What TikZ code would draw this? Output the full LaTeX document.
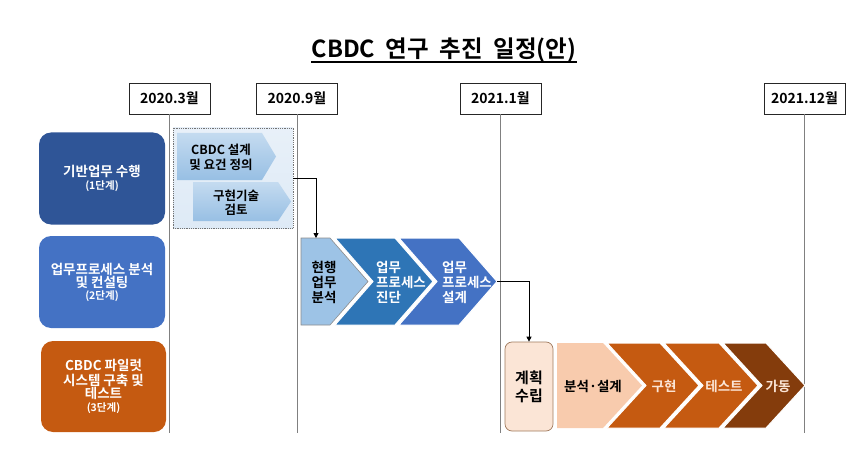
\documentclass[tikz,border=0pt]{standalone}
\usepackage{fontspec}
\setmainfont{Noto Sans CJK KR}[BoldFont={Noto Sans CJK KR Bold}]
\usetikzlibrary{arrows.meta}
\definecolor{bnavy}{HTML}{2F5597}
\definecolor{bmid}{HTML}{4472C4}
\definecolor{bdark}{HTML}{2E75B6}
\definecolor{blight}{HTML}{9DC3E6}
\definecolor{bpale}{HTML}{DEEAF6}
\definecolor{orng}{HTML}{C55A11}
\definecolor{brwn}{HTML}{843C0C}
\definecolor{peach}{HTML}{F8CBAD}
\definecolor{peachpale}{HTML}{FBE5D6}
\definecolor{peachline}{HTML}{A07A5E}
\definecolor{vline}{HTML}{808080}
\newcommand\kfs[2]{\fontsize{#1}{#2}\selectfont\bfseries}
% name, left x, notch depth, flat end x, tip x, top y, bottom y, style
\newcommand\mychev[8]{%
  \path[#8] (#2,#6) -- (#4,#6) -- (#5,{(#6+#7)/2}) -- (#4,#7) -- (#2,#7)
    -- ({#2+#3},{(#6+#7)/2}) -- cycle;
  \coordinate (#1tip) at (#5,{(#6+#7)/2});}
\begin{document}
\begin{tikzpicture}[x=1pt,y=-1pt,
  titlestyle/.style={inner sep=0pt, anchor=base, font=\kfs{23.5}{28}},
  datebox/.style={draw=black!85, line width=0.8pt, fill=white, minimum width=81pt,
    minimum height=31pt, inner sep=0pt, font=\kfs{14}{16}},
  tline/.style={draw=vline, line width=0.8pt},
  lbox/.style={rounded corners=12pt, minimum width=126pt, minimum height=92pt,
    text=white, align=center, inner sep=0pt, font=\kfs{13.5}{16}},
  stg/.style={font=\kfs{10.5}{12}},
  ctext/.style={align=center, inner sep=0pt, font=\kfs{12.5}{14}},
  mtext/.style={align=left, inner sep=0pt, font=\kfs{13.5}{15}},
  conn/.style={draw=black, line width=0.9pt, -{Triangle[length=5pt,width=5pt]}},
  chevw/.style={draw=white, line width=1pt}
]
\useasboundingbox (0,0) rectangle (866,457);
% title
\node[titlestyle] (title) at (444,58) {CBDC\ \ 연구\ \ 추진\ \ 일정(안)};
\draw[line width=1.6pt] ([yshift=-4pt]title.base west) -- ([yshift=-4pt]title.base east);
% date boxes and time lines
\node[datebox] (d1) at (169.5,98.5) {2020.3월};
\node[datebox] (d2) at (297,98.5) {2020.9월};
\node[datebox] (d3) at (500.5,98.5) {2021.1월};
\node[datebox] (d4) at (804.5,98.5) {2021.12월};
\coordinate (e1) at (169.5,433);
\coordinate (e2) at (297,433);
\coordinate (e3) at (500.5,433);
\coordinate (e4) at (804.5,433);
\draw[tline] (d1.south) -- (e1);
\draw[tline] (d2.south) -- (e2);
\draw[tline] (d3.south) -- (e3);
\draw[tline] (d4.south) -- (e4);
% stage boxes
\node[lbox, fill=bnavy] (b1) at (102,178.5) {기반업무 수행\\[-3pt]{\kfs{10.5}{12}(1단계)}};
\node[lbox, fill=bmid] (b2) at (102,282) {업무프로세스 분석\\[-3pt]및 컨설팅\\[-4pt]{\kfs{10.5}{12}(2단계)}};
\node[lbox, fill=orng, minimum width=125pt, minimum height=91pt] (b3) at (103.5,386.5)
  {CBDC 파일럿\\[-1pt]시스템 구축 및\\[-3pt]테스트\\[-3pt]{\kfs{10.5}{12}(3단계)}};
% stage 1 group
\node[draw=black!55, densely dotted, line width=0.8pt, top color=bpale!70, bottom color=bpale,
  minimum width=120pt, minimum height=100pt, inner sep=0pt] (grp) at (233,178) {};
\mychev{c1}{177}{0}{262}{276}{133}{180}{top color=blight!60, bottom color=blight!95!bdark}
\mychev{c2}{193}{0}{278}{291}{182}{221}{top color=blight!60, bottom color=blight!95!bdark}
\node[ctext, font=\kfs{12.5}{15}] (c1t) at (221,157) {CBDC 설계\\및 요건 정의};
\node[ctext, font=\kfs{12.5}{14}] (c2t) at (236,203) {구현기술\\검토};
% stage 2 chevrons
\mychev{m1}{301}{0}{330}{368}{238}{325}{fill=blight, draw=black!45, line width=0.6pt}
\mychev{m2}{335}{38}{395}{433}{238}{325}{fill=bdark, chevw}
\mychev{m3}{399}{38}{459}{497}{238}{325}{fill=bmid, chevw}
\node[mtext] (m1t) at (324,282) {현행\\업무\\분석};
\node[mtext, text=white] (m2t) at (401,282) {업무\\프로세스\\진단};
\node[mtext, text=white] (m3t) at (467,282) {업무\\프로세스\\설계};
\coordinate (m1in) at (316,238);
\draw[conn] (grp.east) -| (m1in);
% stage 3
\node[draw=peachline, line width=0.7pt, fill=peachpale, rounded corners=7pt,
  minimum width=48pt, minimum height=89pt, inner sep=0pt, align=center,
  font=\kfs{15}{18}] (plan) at (529,386.5) {계획\\수립};
\draw[conn] (m3tip) -| (plan.north);
\mychev{p1}{557}{0}{603}{642}{343}{428}{fill=peach}
\mychev{p2}{607}{39}{660}{699}{343}{428}{fill=orng, chevw}
\mychev{p3}{664}{39}{719}{758}{343}{428}{fill=orng, chevw}
\mychev{p4}{723}{39}{766}{805}{343}{428}{fill=brwn, chevw}
\node[inner sep=0pt, font=\kfs{13.5}{15}] (p1t) at (593,386) {분석·설계};
\node[inner sep=0pt, font=\kfs{13.5}{15}, text=peachpale] (p2t) at (664,386) {구현};
\node[inner sep=0pt, font=\kfs{13.5}{15}, text=peachpale] (p3t) at (724,386) {테스트};
\node[inner sep=0pt, font=\kfs{13.5}{15}, text=peachpale] (p4t) at (778,386) {가동};
\end{tikzpicture}
\end{document}
